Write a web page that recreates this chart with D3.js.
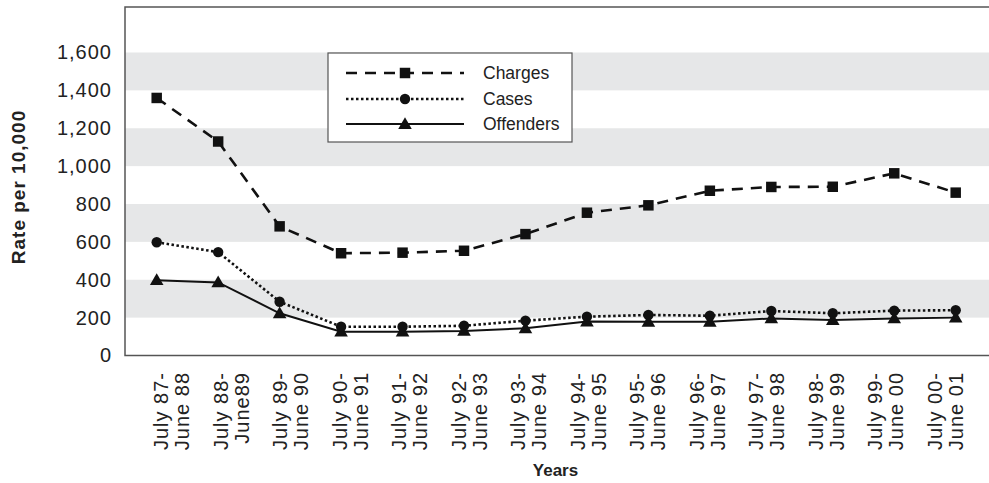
<!DOCTYPE html>
<html>
<head>
<meta charset="utf-8">
<script src="https://cdn.jsdelivr.net/npm/d3@7"></script>
<style>
  html, body { margin: 0; padding: 0; background: #fff; }
  svg { display: block; }
</style>
</head>
<body>
<svg id="chart" width="989" height="483"></svg>
<script>
const categories = [
  ["July 87-", "June 88"], ["July 88-", "June89"], ["July 89-", "June 90"],
  ["July 90-", "June 91"], ["July 91-", "June 92"], ["July 92-", "June 93"],
  ["July 93-", "June 94"], ["July 94-", "June 95"], ["July 95-", "June 96"],
  ["July 96-", "June 97"], ["July 97-", "June 98"], ["July 98-", "June 99"],
  ["July 99-", "June 00"], ["July 00-", "June 01"]
];
const charges   = [1360, 1130, 682, 540, 543, 553, 641, 754, 793, 870, 890, 891, 962, 860];
const cases     = [598, 546, 284, 152, 152, 157, 184, 205, 214, 210, 235, 223, 237, 239];
const offenders = [398, 386, 223, 126, 126, 130, 144, 179, 178, 178, 196, 187, 196, 200];
const yTicks = [0, 200, 400, 600, 800, 1000, 1200, 1400, 1600];
const bands = [[200, 400], [600, 800], [1000, 1200], [1400, 1600]];
const seriesNames = ["Charges", "Cases", "Offenders"];

(function () {
const svg = d3.select("#chart");
const pLeft = 125, pRight = 990, pTop = 7, pBottom = 355.5;

const x = d3.scalePoint().domain(d3.range(categories.length)).range([156.7, 955.7]);
const xLabel = d3.scalePoint().domain(d3.range(categories.length)).range([171, 945]);
const y = d3.scaleLinear().domain([0, 1600]).range([pBottom, 52.5]);

// bands
svg.append("g").selectAll("rect").data(bands).join("rect")
  .attr("x", pLeft).attr("width", pRight - pLeft)
  .attr("y", d => y(d[1])).attr("height", d => y(d[0]) - y(d[1]))
  .attr("fill", "#e6e7e8");

// frame
svg.append("rect").attr("x", pLeft).attr("y", pTop)
  .attr("width", pRight - pLeft + 5).attr("height", pBottom - pTop)
  .attr("fill", "none").attr("stroke", "#555").attr("stroke-width", 1.5);

// y axis
const yAxis = d3.axisLeft(y).tickValues(yTicks).tickSize(0).tickPadding(13)
  .tickFormat(d3.format(","));
const gy = svg.append("g").attr("transform", `translate(${pLeft},0)`).call(yAxis);
gy.select(".domain").remove();
gy.selectAll("text").attr("font-family", "Liberation Sans, Arial, sans-serif")
  .attr("font-size", 20).attr("letter-spacing", 1).attr("fill", "#222");

// x labels
const gx = svg.append("g");
categories.forEach((c, i) => {
  const cx = xLabel(i);
  c.forEach((line, j) => {
    gx.append("text")
      .attr("transform", `translate(${cx - 3 + j * 21},372) rotate(-90)`)
      .attr("text-anchor", "end")
      .attr("font-family", "Liberation Sans, Arial, sans-serif")
      .attr("font-size", 20).attr("letter-spacing", 1).attr("fill", "#222")
      .text(line);
  });
});

// axis titles
svg.append("text")
  .attr("transform", `translate(25,${(108 + 266) / 2}) rotate(-90)`)
  .attr("text-anchor", "middle")
  .attr("font-family", "Liberation Sans, Arial, sans-serif")
  .attr("font-weight", "bold").attr("font-size", 19).attr("letter-spacing", 1)
  .attr("fill", "#222").text("Rate per 10,000");
svg.append("text")
  .attr("x", (pLeft + 986) / 2).attr("y", 476)
  .attr("text-anchor", "middle")
  .attr("font-family", "Liberation Sans, Arial, sans-serif")
  .attr("font-weight", "bold").attr("font-size", 17)
  .attr("fill", "#222").text("Years");

// series
const styles = [
  { data: charges, dash: "11,8", width: 2.6, marker: "square" },
  { data: cases, dash: "2.5,2.5", width: 2.6, marker: "circle" },
  { data: offenders, dash: null, width: 2, marker: "triangle" }
];
const line = d3.line().x((d, i) => x(i)).y(d => y(d));
const symbolFor = m => m === "square" ? d3.symbol(d3.symbolSquare, 110)
  : m === "circle" ? d3.symbol(d3.symbolCircle, 85)
  : d3.symbol(d3.symbolTriangle, 80);

styles.forEach(s => {
  svg.append("path").datum(s.data).attr("d", line)
    .attr("fill", "none").attr("stroke", "#111")
    .attr("stroke-width", s.width)
    .attr("stroke-dasharray", s.dash);
});
styles.slice().reverse().forEach(s => {
  svg.append("g").selectAll("path").data(s.data).join("path")
    .attr("transform", (d, i) => `translate(${x(i)},${y(d) + (s.marker === "triangle" ? 1 : 0)})`)
    .attr("d", symbolFor(s.marker)())
    .attr("fill", "#111");
});

// legend
const lg = svg.append("g");
lg.append("rect").attr("x", 328).attr("y", 53).attr("width", 244).attr("height", 89)
  .attr("fill", "#fff").attr("stroke", "#555").attr("stroke-width", 1.2);
const rowY = [73, 99, 124];
styles.forEach((s, i) => {
  lg.append("line").attr("x1", 346).attr("x2", 464).attr("y1", rowY[i]).attr("y2", rowY[i])
    .attr("stroke", "#111").attr("stroke-width", s.width).attr("stroke-dasharray", s.dash);
  lg.append("path").attr("transform", `translate(405,${rowY[i] + (s.marker === "triangle" ? 1 : 0)})`)
    .attr("d", symbolFor(s.marker)()).attr("fill", "#111");
  lg.append("text").attr("x", 483).attr("y", rowY[i]).attr("dy", "0.35em")
    .attr("font-family", "Liberation Sans, Arial, sans-serif")
    .attr("font-size", 17.5).attr("fill", "#222").text(seriesNames[i]);
});
})();
</script>
</body>
</html>
